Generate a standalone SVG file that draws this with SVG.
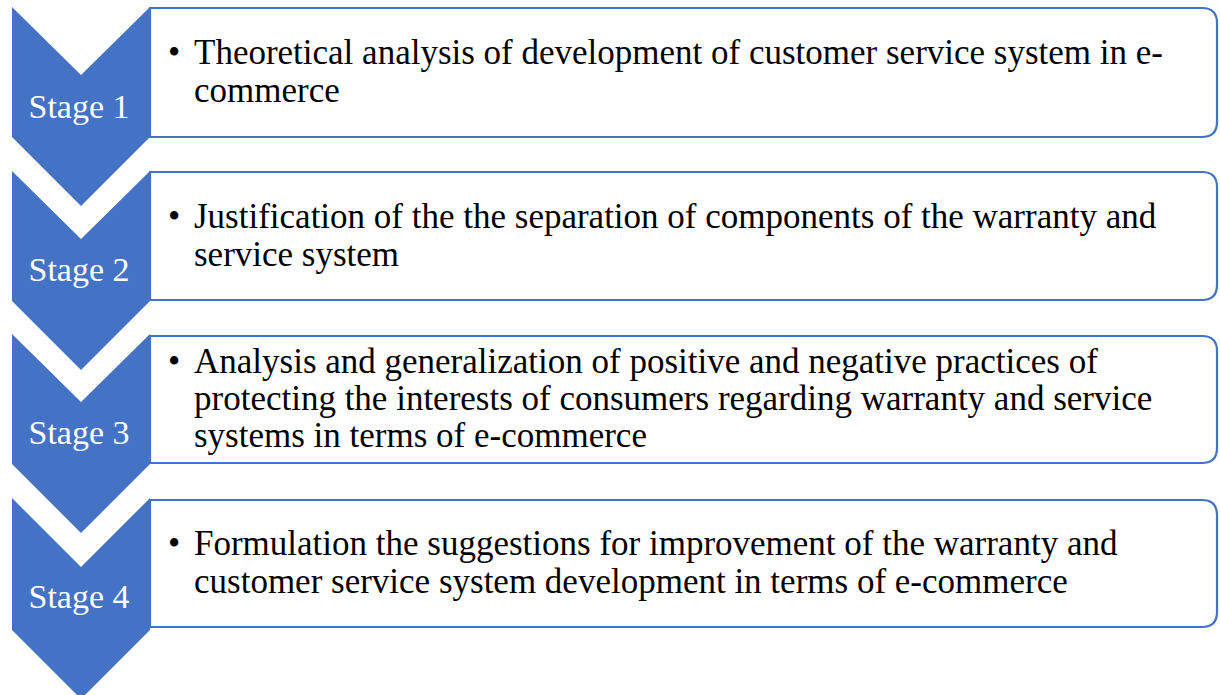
<svg xmlns="http://www.w3.org/2000/svg" width="1220" height="695" viewBox="0 0 1220 695">
<style>
.box{fill:#fff;stroke:#4472C4;stroke-width:2.2}
.chev{fill:#4472C4}
.st{font-size:34px;fill:#fff;text-anchor:middle}
.tx{font-size:35px;fill:#000}
</style>
<rect width="1220" height="695" fill="#fff"/>
<g id="stage1" font-family="Liberation Serif, Times New Roman, serif">
<path class="box" d="M150,8 H1202 Q1217,8 1217,23 V122 Q1217,137 1202,137 H150 Z"/>
<path class="chev" d="M12,7 L81,75 L150,7 V137 L81,206 L12,137 Z"/>
<text class="st" x="79" y="118">Stage 1</text>
<text class="tx" x="168" y="64">•</text>
<text class="tx" x="194" y="64">Theoretical analysis of development of customer service system in e-</text>
<text class="tx" x="194" y="102">commerce</text>
</g>
<g id="stage2" font-family="Liberation Serif, Times New Roman, serif">
<path class="box" d="M150,172 H1202 Q1217,172 1217,187 V285 Q1217,300 1202,300 H150 Z"/>
<path class="chev" d="M12,171 L81,239 L150,171 V301 L81,370 L12,301 Z"/>
<text class="st" x="79" y="281">Stage 2</text>
<text class="tx" x="168" y="228">•</text>
<text class="tx" x="194" y="228">Justification of the the separation of components of the warranty and</text>
<text class="tx" x="194" y="266">service system</text>
</g>
<g id="stage3" font-family="Liberation Serif, Times New Roman, serif">
<path class="box" d="M150,336 H1202 Q1217,336 1217,351 V448 Q1217,463 1202,463 H150 Z"/>
<path class="chev" d="M12,334 L81,402 L150,334 V464 L81,533 L12,464 Z"/>
<text class="st" x="79" y="444">Stage 3</text>
<text class="tx" x="168" y="373">•</text>
<text class="tx" x="194" y="373">Analysis and generalization of positive and negative practices of</text>
<text class="tx" x="194" y="410">protecting the interests of consumers regarding warranty and service</text>
<text class="tx" x="194" y="447">systems in terms of e-commerce</text>
</g>
<g id="stage4" font-family="Liberation Serif, Times New Roman, serif">
<path class="box" d="M150,500 H1202 Q1217,500 1217,515 V612 Q1217,627 1202,627 H150 Z"/>
<path class="chev" d="M12,498 L81,567 L150,498 V630 L81,699 L12,630 Z"/>
<text class="st" x="79" y="608">Stage 4</text>
<text class="tx" x="168" y="555">•</text>
<text class="tx" x="194" y="555">Formulation the suggestions for improvement of the warranty and</text>
<text class="tx" x="194" y="593">customer service system development in terms of e-commerce</text>
</g>
<g id="connectors"/>
</svg>
